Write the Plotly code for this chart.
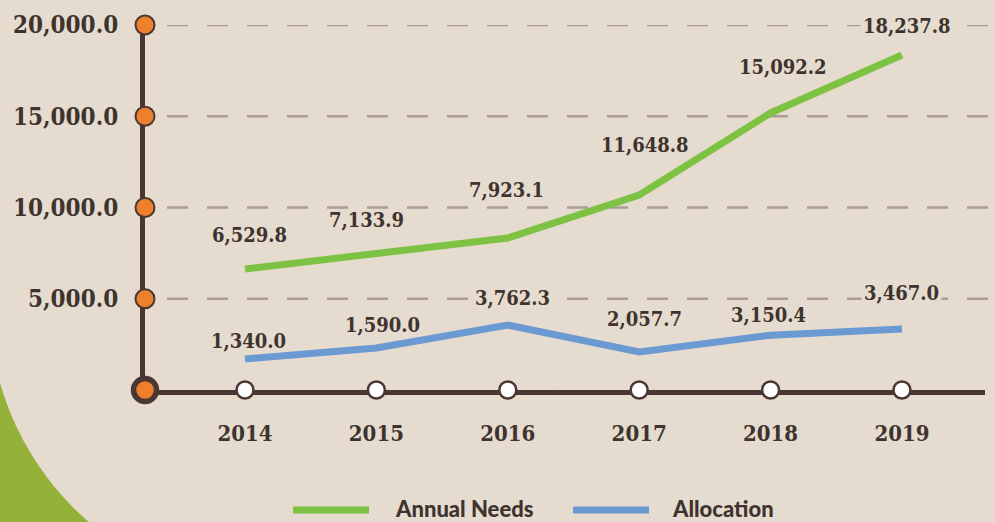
import plotly.graph_objects as go

# ── data ─────────────────────────────────────────────────────────────────────
YEARS = [2014, 2015, 2016, 2017, 2018, 2019]
SERIES = ["Annual Needs", "Allocation"]

# line heights as drawn in the picture
ANNUAL_NEEDS = [6630, 7500, 8330, 10680, 15180, 18360]
ALLOCATION = [1700, 2300, 3560, 2080, 3000, 3340]

# printed value labels
NEEDS_LABELS = ["6,529.8", "7,133.9", "7,923.1", "11,648.8", "15,092.2", "18,237.8"]
ALLOC_LABELS = ["1,340.0", "1,590.0", "3,762.3", "2,057.7", "3,150.4", "3,467.0"]

Y_TICKS = [5000, 10000, 15000, 20000]

# ── style ────────────────────────────────────────────────────────────────────
BG = "#e5dbcf"
BLOB = "#94b23a"
DARK = "#4a3733"
TEXT = "#3f3330"
ORANGE = "#ee7f2d"
GRID = "#ab9c94"
GREEN = "#7dc243"
BLUE = "#6b9ad3"
SLAB = "DejaVu Serif Condensed, DejaVu Serif, serif"

W, H = 995, 522
L, R, T, B = 145, 10, 25, 132
X0, X1 = 2013.239, 2019.632

# label offsets in px (dx, dy) from each point, and whether the label
# masks the dashed grid behind it
NEEDS_OFF = [(5, 34), (-10, 33), (-1, 48), (6, 50), (12, 46), (5, 29)]
ALLOC_OFF = [(4, 18), (6, 23), (5, 27), (5, 33), (-2, 20), (0, 36)]
NEEDS_MASK = [False, False, False, False, False, True]
ALLOC_MASK = [False, False, True, False, False, True]


def px_x(p):
    return (p - L) / (W - L - R)


def px_y(p):
    return (H - B - p) / (H - B - T)


fig = go.Figure()

fig.add_trace(go.Scatter(
    x=YEARS, y=ANNUAL_NEEDS, mode="lines", name=SERIES[0],
    line=dict(color=GREEN, width=7), showlegend=False, cliponaxis=False,
))
fig.add_trace(go.Scatter(
    x=YEARS, y=ALLOCATION, mode="lines", name=SERIES[1],
    line=dict(color=BLUE, width=7), showlegend=False, cliponaxis=False,
))

# axis markers
fig.add_trace(go.Scatter(
    x=YEARS, y=[0] * len(YEARS), mode="markers", showlegend=False,
    marker=dict(size=17, color="white", line=dict(color=DARK, width=2.5)),
    cliponaxis=False, hoverinfo="skip",
))
fig.add_trace(go.Scatter(
    x=[X0] * len(Y_TICKS), y=Y_TICKS, mode="markers", showlegend=False,
    marker=dict(size=19, color=ORANGE, line=dict(color=DARK, width=2)),
    cliponaxis=False, hoverinfo="skip",
))
fig.add_trace(go.Scatter(
    x=[X0], y=[0], mode="markers", showlegend=False,
    marker=dict(size=23, color=ORANGE, line=dict(color=DARK, width=5.5)),
    cliponaxis=False, hoverinfo="skip",
))

shapes = [
    # green corner blob, carved by a background-coloured circle
    dict(type="rect", xref="paper", yref="paper", layer="below",
         x0=px_x(-5), x1=px_x(100), y0=px_y(530), y1=px_y(375),
         fillcolor=BLOB, line=dict(width=0)),
    dict(type="circle", xref="paper", yref="paper", layer="below",
         x0=px_x(277 - 288), x1=px_x(277 + 288),
         y0=px_y(304 + 288), y1=px_y(304 - 288),
         fillcolor=BG, line=dict(width=0)),
]
for v in Y_TICKS:
    shapes.append(dict(type="line", xref="paper", yref="y", layer="below",
                       x0=px_x(167), x1=px_x(W), y0=v, y1=v,
                       line=dict(color=GRID, width=2.5, dash="21px,19px")))

annotations = []
for vals, labels, offs, masks in [
        (ANNUAL_NEEDS, NEEDS_LABELS, NEEDS_OFF, NEEDS_MASK),
        (ALLOCATION, ALLOC_LABELS, ALLOC_OFF, ALLOC_MASK)]:
    for x, y, t, (dx, dy), m in zip(YEARS, vals, labels, offs, masks):
        annotations.append(dict(
            x=x, y=y, text=t, showarrow=False, xshift=dx, yshift=dy,
            font=dict(family=SLAB, size=20, color=TEXT, weight="bold"),
            bgcolor=BG if m else "rgba(0,0,0,0)", borderpad=2,
        ))

# legend drawn by hand (long line swatches)
LEG = [(GREEN, 293, 369, 393), (BLUE, 573, 649, 670)]
for name, (col, a, b, tx) in zip(SERIES, LEG):
    shapes.append(dict(type="line", xref="paper", yref="paper",
                       x0=px_x(a), x1=px_x(b), y0=px_y(510), y1=px_y(510),
                       line=dict(color=col, width=7)))
    annotations.append(dict(
        xref="paper", yref="paper", x=px_x(tx), y=px_y(509),
        xanchor="left", yanchor="middle", text=name, showarrow=False,
        font=dict(family="Lato, sans-serif", size=22, color=TEXT, weight=900),
    ))

fig.update_layout(
    width=W, height=H,
    paper_bgcolor=BG, plot_bgcolor="rgba(0,0,0,0)",
    margin=dict(l=L, r=R, t=T, b=B),
    showlegend=False,
    shapes=shapes, annotations=annotations,
    xaxis=dict(
        range=[X0, X1], tickvals=YEARS, ticktext=[str(y) for y in YEARS],
        showgrid=False, zeroline=False, showline=True,
        linecolor=DARK, linewidth=5, layer="below traces",
        ticks="", ticklabelstandoff=20,
        tickfont=dict(family=SLAB, size=22, color=TEXT, weight="bold"),
    ),
    yaxis=dict(
        range=[0, 20000], tickvals=Y_TICKS,
        ticktext=[f"{v:,.1f}" for v in Y_TICKS],
        showgrid=False, zeroline=False, showline=True,
        linecolor=DARK, linewidth=5, layer="below traces",
        ticks="", ticklabelstandoff=17,
        tickfont=dict(family=SLAB, size=24, color=TEXT, weight="bold"),
    ),
)

# drop the page's default body margin so the figure sits at the window corner
fig.write_html("out.html", config={"displayModeBar": False},
               post_script="document.body.style.margin='0';")
